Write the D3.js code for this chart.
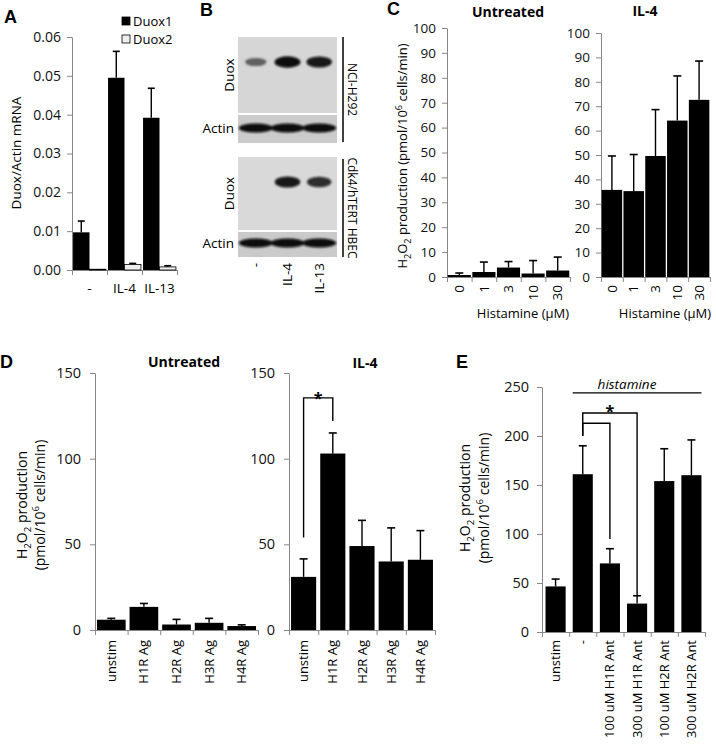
<!DOCTYPE html>
<html>
<head>
<meta charset="utf-8">
<script src="https://cdn.jsdelivr.net/npm/d3@7"></script>
<style>
  body { margin: 0; background: #fff; }
  svg { font-family: 'Open Sans', sans-serif; }
  .axis path, .axis line { stroke: #878787; }
  .axis text { fill: #111; }
  .panel { font-family: 'Liberation Sans', Arial, sans-serif; font-weight: bold; font-size: 18px; }
</style>
</head>
<body>
<script>
// ---- A: Duox mRNA ----
const aCats = ['-', 'IL-4', 'IL-13']
const aSeries = ['Duox1', 'Duox2']
const aDuox1 = [0.0097, 0.0495, 0.0392]
const aDuox1Err = [0.0029, 0.0068, 0.0076]
const aDuox2 = [0.0002, 0.0014, 0.0008]
const aDuox2Err = [0, 0.0003, 0.0003]
const aTicks = [0, 0.01, 0.02, 0.03, 0.04, 0.05, 0.06]

// ---- B: western blots (band strength 0..1) ----
const bLanes = ['-', 'IL-4', 'IL-13']
const bH292Duox = [0.55, 1, 0.95]
const bH292Actin = [1, 1, 1]
const bHbecDuox = [0, 0.95, 0.85]
const bHbecActin = [1, 1, 1]

// ---- C: histamine dose ----
const cDoses = ['0', '1', '3', '10', '30']
const cUntreated = [0.8, 2.0, 3.8, 1.4, 2.6]
const cUntreatedErr = [0.8, 4.0, 2.4, 5.2, 5.4]
const cIL4 = [35.7, 35.2, 49.6, 64.1, 72.6]
const cIL4Err = [13.9, 15.0, 19.0, 18.3, 15.9]
const cTicks = [0, 10, 20, 30, 40, 50, 60, 70, 80, 90, 100]

// ---- D: receptor agonists ----
const dCats = ['unstim', 'H1R Ag', 'H2R Ag', 'H3R Ag', 'H4R Ag']
const dUntreated = [6.0, 13.5, 3.2, 4.2, 2.3]
const dUntreatedErr = [0.8, 2.0, 3.0, 2.6, 0.7]
const dIL4 = [31, 103, 49, 40, 41]
const dIL4Err = [10.5, 12, 15, 19.6, 17]
const dTicks = [0, 50, 100, 150]

// ---- E: receptor antagonists ----
const eCats = ['unstim', '-', '100 uM H1R Ant', '300 uM H1R Ant', '100 uM H2R Ant', '300 uM H2R Ant']
const eValues = [46.5, 161, 70, 29, 154, 160]
const eErr = [7.5, 29, 15, 8, 33, 36]
const eTicks = [0, 50, 100, 150, 200, 250]

const svg = d3.select('body').append('svg')
  .attr('width', 716)
  .attr('height', 747)

// text with sub/superscript parts: [text, 0 normal | 1 sub | -1 sup]
function richText(sel, parts, fs) {
  let cur = 0
  parts.forEach(([t, s]) => {
    const target = s === 1 ? fs * 0.3 : s === -1 ? -fs * 0.4 : 0
    sel.append('tspan')
      .attr('dy', target - cur)
      .attr('font-size', s ? fs * 0.7 : fs)
      .text(t)
    cur = target
  })
}
const h2o2 = [['H', 0], ['2', 1], ['O', 0], ['2', 1], [' production', 0]]
const units = [['(pmol/10', 0], ['6', -1], [' cells/min)', 0]]

function rotLabel(x, y, parts, fs, anchor) {
  const t = svg.append('text')
    .attr('transform', `translate(${x},${y}) rotate(-90)`)
    .attr('text-anchor', anchor || 'middle')
    .attr('font-size', fs)
  richText(t, parts, fs)
  return t
}

function barChart(o) {
  const g = svg.append('g')
  const x = d3.scaleBand().domain(o.cats).range([o.left, o.right])
    .paddingInner(o.pad).paddingOuter(o.pad / 2)
  const y = d3.scaleLinear().domain([0, o.max]).range([o.bottom, o.top])
  const xb = d3.scaleLinear().domain([0, o.cats.length]).range([o.left, o.right])

  g.append('g')
    .attr('class', 'axis')
    .attr('transform', `translate(${o.left},0)`)
    .call(d3.axisLeft(y).tickValues(o.ticks).tickFormat(o.fmt || d3.format('d'))
      .tickSize(5).tickSizeOuter(0).tickPadding(o.tickPad || 7))
    .attr('font-size', o.fs)
    .attr('font-family', null)

  g.append('g')
    .attr('class', 'axis')
    .attr('transform', `translate(0,${o.bottom})`)
    .call(d3.axisBottom(xb).tickValues(d3.range(o.cats.length + 1)).tickFormat('')
      .tickSize(5).tickSizeOuter(0))

  if (o.values) {
    g.selectAll('rect.bar')
      .data(o.values)
      .join('rect')
      .attr('class', 'bar')
      .attr('x', (d, i) => x(o.cats[i]))
      .attr('width', x.bandwidth())
      .attr('y', d => y(d))
      .attr('height', d => y(0) - y(d))
      .attr('fill', '#000')

    errorBars(g, o.values.map((v, i) => ({
      cx: x(o.cats[i]) + x.bandwidth() / 2, v: v, e: o.errs[i]
    })), y, o.cap || 8)
  }

  if (o.rotated !== false) {
    o.cats.forEach(c => {
      svg.append('text')
        .attr('transform', `translate(${x(c) + x.bandwidth() / 2 + o.labelFs * 0.35},${o.bottom + o.labelGap}) rotate(-90)`)
        .attr('text-anchor', 'end')
        .attr('font-size', o.labelFs)
        .text(c)
    })
  }
  return { x, y, g }
}

function errorBars(g, rows, y, cap) {
  rows.filter(r => r.e > 0).forEach(r => {
    g.append('line')
      .attr('x1', r.cx).attr('x2', r.cx)
      .attr('y1', y(r.v)).attr('y2', y(r.v + r.e))
      .attr('stroke', '#000').attr('stroke-width', 1.4)
    g.append('line')
      .attr('x1', r.cx - cap / 2).attr('x2', r.cx + cap / 2)
      .attr('y1', y(r.v + r.e)).attr('y2', y(r.v + r.e))
      .attr('stroke', '#000').attr('stroke-width', 1.6)
  })
}

function panelLabel(t, x, y) {
  svg.append('text').attr('class', 'panel').attr('x', x).attr('y', y).text(t)
}

function title(t, x, y) {
  svg.append('text')
    .attr('x', x).attr('y', y)
    .attr('text-anchor', 'middle')
    .attr('font-size', 14)
    .attr('font-weight', 'bold')
    .text(t)
}

// ================= A =================
panelLabel('A', 4, 23)
const a = barChart({
  cats: aCats, left: 72, right: 177, top: 37, bottom: 270,
  max: 0.06, ticks: aTicks, fmt: d3.format('.2f'), pad: 0.06, fs: 14,
  rotated: false, tickPad: 6
})
const ax1 = d3.scaleBand().domain(aSeries).range([0, a.x.bandwidth()])
const aRows = []
aCats.forEach((c, i) => {
  aRows.push({ cat: c, s: 'Duox1', v: aDuox1[i], e: aDuox1Err[i] })
  aRows.push({ cat: c, s: 'Duox2', v: aDuox2[i], e: aDuox2Err[i] })
})
a.g.selectAll('rect.grp')
  .data(aRows)
  .join('rect')
  .attr('class', 'grp')
  .attr('x', d => a.x(d.cat) + ax1(d.s))
  .attr('width', ax1.bandwidth())
  .attr('y', d => a.y(d.v))
  .attr('height', d => a.y(0) - a.y(d.v))
  .attr('fill', d => (d.s === 'Duox1' ? '#000' : '#eee'))
  .attr('stroke', '#000')
  .attr('stroke-width', d => (d.s === 'Duox1' ? 0 : 0.8))
errorBars(a.g, aRows.map(d => ({
  cx: a.x(d.cat) + ax1(d.s) + ax1.bandwidth() / 2, v: d.v, e: d.e
})), a.y, 7)
aCats.forEach(c => {
  svg.append('text')
    .attr('x', a.x(c) + a.x.bandwidth() / 2)
    .attr('y', 293)
    .attr('text-anchor', 'middle')
    .attr('font-size', 13.5)
    .text(c)
})
rotLabel(21, 153, [['Duox/Actin mRNA', 0]], 13.5)

const legend = svg.append('g')
aSeries.forEach((s, i) => {
  legend.append('rect')
    .attr('x', 122).attr('y', 17 + i * 18)
    .attr('width', 8).attr('height', 8)
    .attr('fill', i === 0 ? '#000' : '#eee')
    .attr('stroke', '#000').attr('stroke-width', 0.8)
  legend.append('text')
    .attr('x', 133).attr('y', 25.5 + i * 18)
    .attr('font-size', 13)
    .text(s)
})

// ================= B =================
panelLabel('B', 200, 16)
const defs = svg.append('defs')
defs.append('filter').attr('id', 'blur')
  .attr('x', '-50%').attr('y', '-100%').attr('width', '200%').attr('height', '300%')
  .append('feGaussianBlur').attr('stdDeviation', 1.3)

const lane = d3.scaleBand().domain(bLanes).range([240, 335])
const blots = [
  { y: 37, h: 76, bandY: 25, bands: bH292Duox, bg: '#d6d6d6', kind: 'duox' },
  { y: 115, h: 28, bandY: 13, bands: bH292Actin, bg: '#cbcbcb', kind: 'actin' },
  { y: 157, h: 73, bandY: 25, bands: bHbecDuox, bg: '#d9d9d9', kind: 'duox' },
  { y: 232, h: 25, bandY: 11, bands: bHbecActin, bg: '#cacaca', kind: 'actin' }
]
blots.forEach(b => {
  svg.append('rect')
    .attr('x', 238).attr('y', b.y)
    .attr('width', 99).attr('height', b.h)
    .attr('fill', b.bg)
  svg.append('g')
    .attr('filter', 'url(#blur)')
    .selectAll('ellipse')
    .data(b.bands)
    .join('ellipse')
    .attr('cx', (d, i) => lane(bLanes[i]) + lane.bandwidth() / 2)
    .attr('cy', b.y + b.bandY)
    .attr('rx', d => (b.kind === 'actin' ? 17 : 8 + 5 * d))
    .attr('ry', d => (b.kind === 'actin' ? 4.5 : 2 + 3.8 * d))
    .attr('fill', '#0a0a0a')
    .attr('opacity', d => d)
  if (b.kind === 'actin') {
    svg.append('text')
      .attr('x', 234).attr('y', b.y + b.bandY + 5)
      .attr('text-anchor', 'end')
      .attr('font-size', 13.5)
      .text('Actin')
  } else {
    rotLabel(234, b.y + b.h / 2, [['Duox', 0]], 13.5)
  }
})
bLanes.forEach(l => {
  svg.append('text')
    .attr('transform', `translate(${lane(l) + lane.bandwidth() / 2 + 4.5},263) rotate(-90)`)
    .attr('text-anchor', 'end')
    .attr('font-size', 13.5)
    .text(l)
})
const cellLines = [
  { name: 'NCI-H292', y1: 37, y2: 142 },
  { name: 'Cdk4/hTERT HBEC', y1: 159, y2: 257 }
]
cellLines.forEach(c => {
  svg.append('line')
    .attr('x1', 343).attr('x2', 343)
    .attr('y1', c.y1).attr('y2', c.y2)
    .attr('stroke', '#000').attr('stroke-width', 1.5)
  svg.append('text')
    .attr('transform', `translate(348,${(c.y1 + c.y2) / 2}) rotate(90)`)
    .attr('text-anchor', 'middle')
    .attr('font-size', 12)
    .text(c.name)
})

// ================= C =================
panelLabel('C', 387, 15)
barChart({
  cats: cDoses, values: cUntreated, errs: cUntreatedErr,
  left: 447, right: 570, top: 28, bottom: 277, max: 100, ticks: cTicks,
  pad: 0.06, fs: 13.5, labelFs: 13.5, labelGap: 8, tickPad: 6
})
barChart({
  cats: cDoses, values: cIL4, errs: cIL4Err,
  left: 601, right: 710, top: 33, bottom: 277, max: 100, ticks: cTicks,
  pad: 0.06, fs: 13.5, labelFs: 13.5, labelGap: 8, tickPad: 6
})
title('Untreated', 508, 17)
title('IL-4', 645, 16)
rotLabel(407, 156, h2o2.concat([[' ', 0]], units), 13)
svg.append('text').attr('x', 523).attr('y', 318).attr('text-anchor', 'middle')
  .attr('font-size', 13).text('Histamine (\u03bcM)')
svg.append('text').attr('x', 665).attr('y', 318).attr('text-anchor', 'middle')
  .attr('font-size', 13).text('Histamine (\u03bcM)')

// ================= D =================
panelLabel('D', 0, 368)
barChart({
  cats: dCats, values: dUntreated, errs: dUntreatedErr,
  left: 95, right: 258, top: 373, bottom: 630, max: 150, ticks: dTicks,
  pad: 0.12, fs: 14.5, labelFs: 13, labelGap: 10, tickPad: 9
})
const dR = barChart({
  cats: dCats, values: dIL4, errs: dIL4Err,
  left: 289, right: 435, top: 373, bottom: 630, max: 150, ticks: dTicks,
  pad: 0.14, fs: 14.5, labelFs: 13, labelGap: 10, tickPad: 9
})
title('Untreated', 184, 367)
title('IL-4', 365, 368)
rotLabel(27, 505, h2o2, 14)
rotLabel(45, 505, units, 14)

function bracket(ch, c1, c2, level, end1, end2) {
  const x1 = ch.x(c1) + ch.x.bandwidth() / 2
  const x2 = ch.x(c2) + ch.x.bandwidth() / 2
  ch.g.append('path')
    .attr('d', `M${x1},${ch.y(end1)}V${ch.y(level)}H${x2}V${ch.y(end2)}`)
    .attr('fill', 'none')
    .attr('stroke', '#000')
    .attr('stroke-width', 1.4)
  return [x1, x2]
}
const dStar = bracket(dR, 'unstim', 'H1R Ag', 135.5, 54, 122)
svg.append('text').attr('x', (dStar[0] + dStar[1]) / 2).attr('y', dR.y(132))
  .attr('text-anchor', 'middle').attr('font-size', 16).attr('font-weight', 'bold').text('*')

// ================= E =================
panelLabel('E', 456, 368)
const e = barChart({
  cats: eCats, values: eValues, errs: eErr,
  left: 542, right: 705, top: 387, bottom: 632, max: 250, ticks: eTicks,
  pad: 0.26, fs: 14.5, labelFs: 13, labelGap: 8, tickPad: 8
})
rotLabel(470, 498, h2o2, 14)
rotLabel(489, 498, units, 14)
bracket(e, '-', '300 uM H1R Ant', 223.5, 200, 36)
const eStar = bracket(e, '-', '100 uM H1R Ant', 213, 200, 95)
svg.append('text').attr('x', eStar[1]).attr('y', e.y(219))
  .attr('text-anchor', 'middle').attr('font-size', 16).attr('font-weight', 'bold').text('*')
e.g.append('line')
  .attr('x1', e.x('-')).attr('x2', e.x('300 uM H2R Ant') + e.x.bandwidth())
  .attr('y1', e.y(244)).attr('y2', e.y(244))
  .attr('stroke', '#000').attr('stroke-width', 1.4)
svg.append('text').attr('x', 627).attr('y', e.y(248))
  .attr('text-anchor', 'middle').attr('font-size', 13.5).attr('font-style', 'italic')
  .text('histamine')
</script>
</body>
</html>
